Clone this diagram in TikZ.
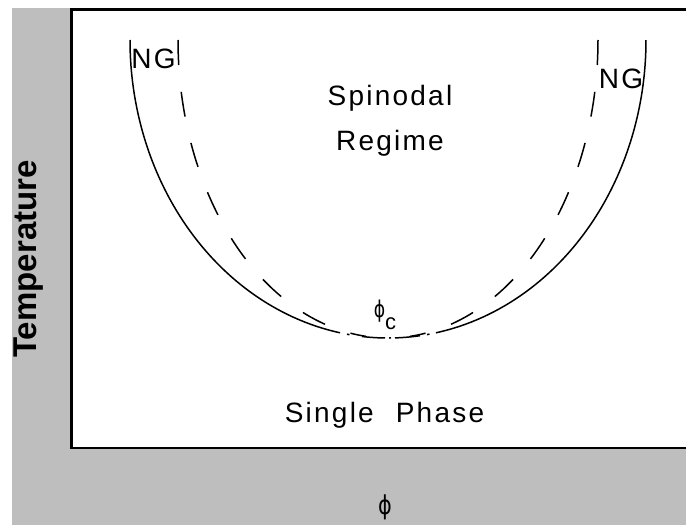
\documentclass[tikz,border=0pt]{standalone}
\usepackage{fontspec}
\setmainfont{Liberation Sans}
\newfontfamily\lblfont[LetterSpace=8]{Liberation Sans}
\newfontfamily\grkfont{DejaVu Sans}
\definecolor{bggray}{RGB}{190,190,190}
\begin{document}
\begin{tikzpicture}[x=1pt,y=-1pt,
  binodal/.style={line width=1.5pt},
  spinodal/.style={line width=1.5pt, dash pattern=on 25pt off 27pt},
  lbl/.style={font=\lblfont\fontsize{28}{32}\selectfont, inner sep=0pt, anchor=base},
  frameline/.style={line width=2.2pt}]
\useasboundingbox (0,0) rectangle (686,525);
% background and plot frame
\fill[bggray] (12,8) rectangle (686,525);
\fill[white] (71.5,9.5) rectangle (686,448);
\draw[frameline] (686,9.5) -- (71.5,9.5) -- (71.5,448) -- (686,448);
% binodal (solid), broken near the critical point
\draw[binodal] plot[domain=180:100.7, samples=80, variable=\t] ({388+258*cos(\t)},{40+298*sin(\t)});
\draw[binodal] plot[domain=79.3:0, samples=80, variable=\t] ({388+258*cos(\t)},{40+298*sin(\t)});
\draw[binodal] plot[domain=347:349.5, samples=3, variable=\x] (\x,{40+298*sqrt(1-((\x-388)/258)^2)});
\draw[binodal] plot[domain=362:385, samples=8, variable=\x] (\x,{40+298*sqrt(1-((\x-388)/258)^2)});
\draw[binodal] plot[domain=389:391, samples=3, variable=\x] (\x,{40+298*sqrt(1-((\x-388)/258)^2)});
\draw[binodal] plot[domain=395:420, samples=8, variable=\x] (\x,{40+298*sqrt(1-((\x-388)/258)^2)});
\draw[binodal] plot[domain=427:429.5, samples=3, variable=\x] (\x,{40+298*sqrt(1-((\x-388)/258)^2)});
% spinodal (dashed)
\draw[spinodal] plot[domain=180:96, samples=100, variable=\t] ({388+210*cos(\t)},{40+298*sin(\t)});
\draw[spinodal] plot[domain=0:84, samples=100, variable=\t] ({388+210*cos(\t)},{40+298*sin(\t)});
% labels
\node[lbl] (ngl) at (153.5,68) {NG};
\node[lbl] (ngr) at (621,88) {NG};
\node[lbl] (spin) at (390,105) {Spinodal};
\node[lbl] (regime) at (390,150) {Regime};
\node[lbl] (single) at (384.5,422) {Single\hspace{12pt} Phase};
\node[inner sep=0pt, anchor=base] (phic) at (385,317)
  {\grkfont\fontsize{23}{26}\selectfont\scalebox{0.75}[1]{ϕ}\raisebox{-12pt}{\fontsize{22}{24}\selectfont\lblfont c}};
\node[inner sep=0pt] (phiax) at (385,507.5) {\grkfont\fontsize{26}{30}\selectfont\scalebox{0.8}[1]{ϕ}};
\node[inner sep=0pt, anchor=base, rotate=90] (temp) at (36,259)
  {\fontsize{33}{36}\selectfont\bfseries Temperature};
\end{tikzpicture}
\end{document}
